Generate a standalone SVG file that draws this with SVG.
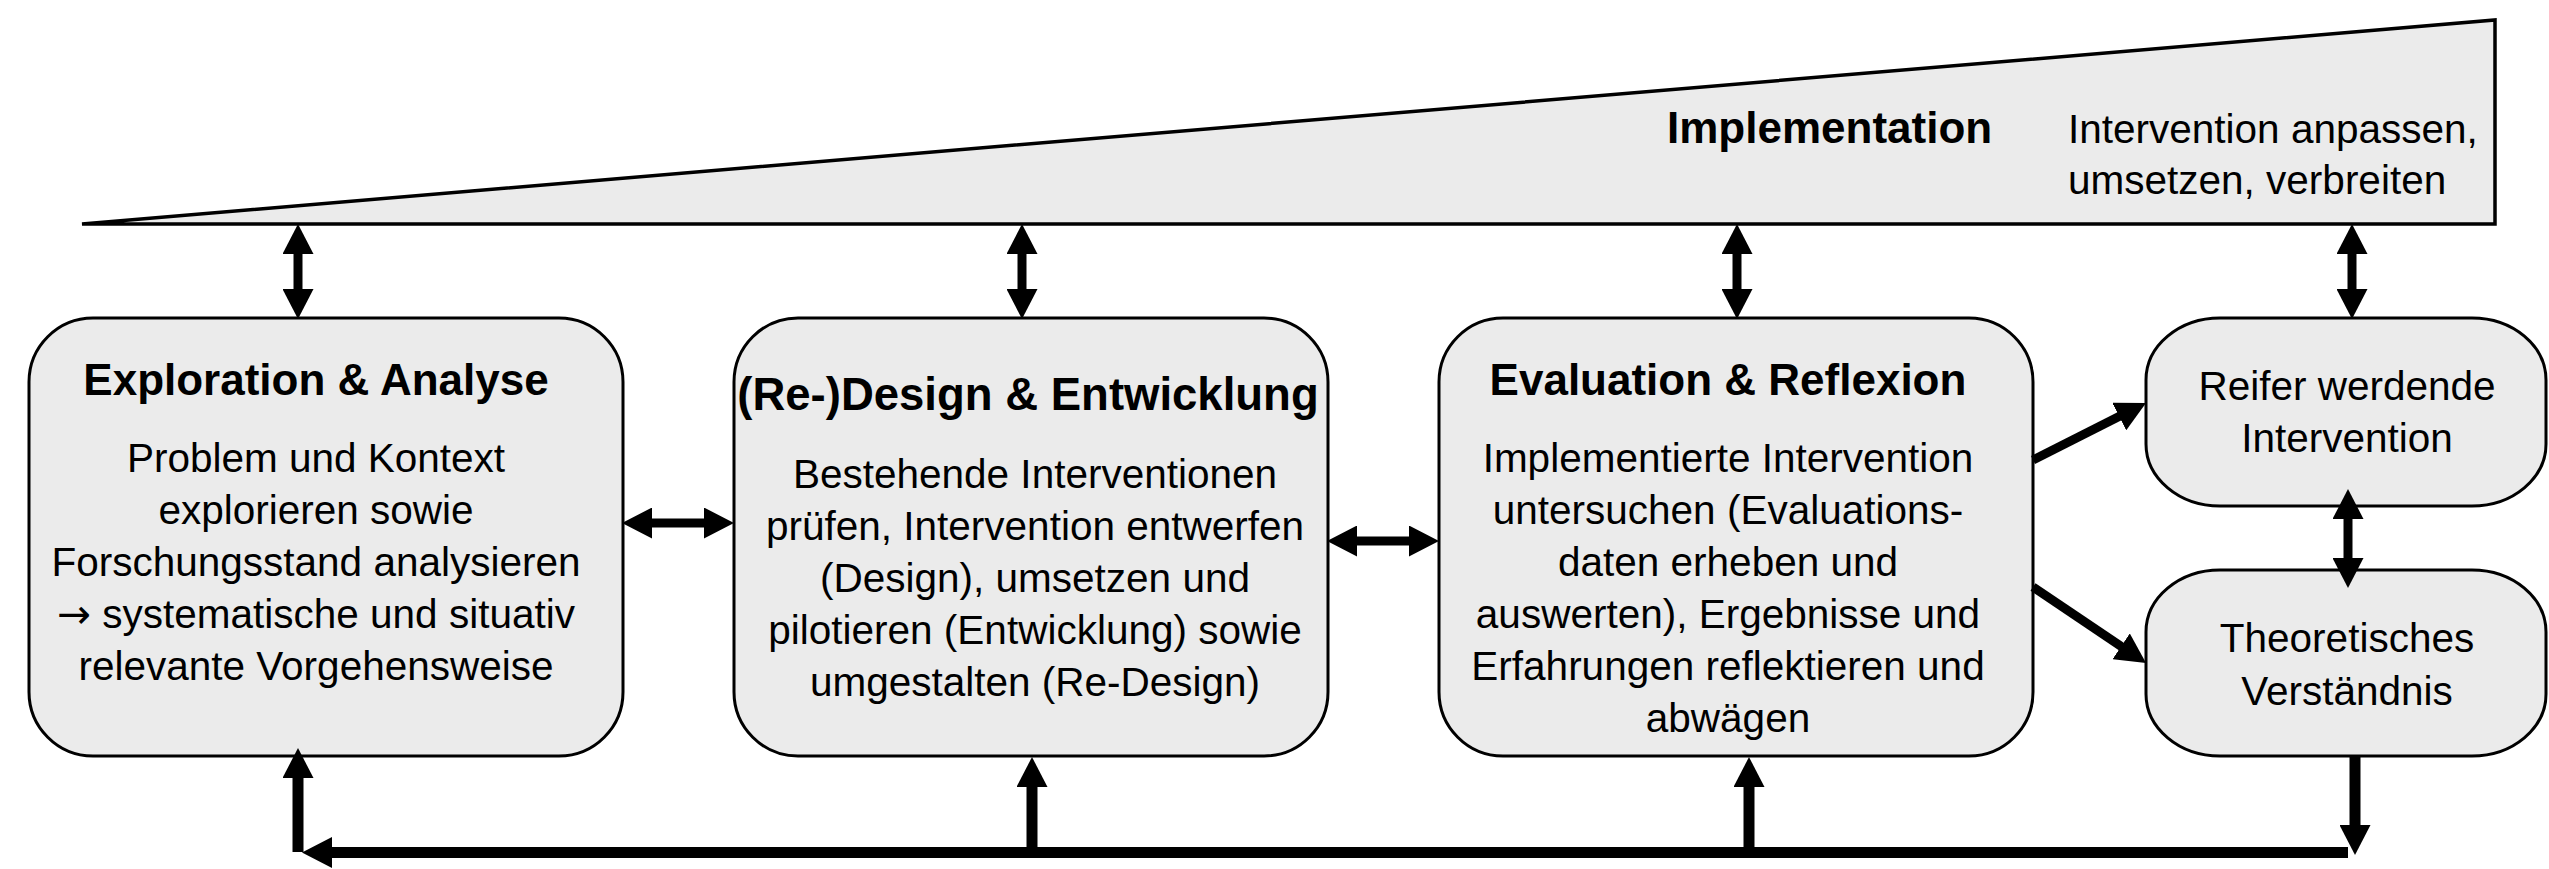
<svg xmlns="http://www.w3.org/2000/svg" width="2549" height="869" viewBox="0 0 2549 869">
<style>
.box{fill:#ebebeb;stroke:#000;stroke-width:3}
.t{font-family:"Liberation Sans",Arial,sans-serif;font-size:40.5px;fill:#000;text-anchor:middle}
.b{font-family:"Liberation Sans",Arial,sans-serif;font-size:44px;font-weight:bold;fill:#000;text-anchor:middle}
.c{fill:none;stroke:#000;stroke-width:9}
.c2{fill:none;stroke:#000;stroke-width:11}
</style>
<defs>
<marker id="ah" viewBox="0 0 30 31" refX="2" refY="15.5" markerWidth="30" markerHeight="31" markerUnits="userSpaceOnUse" orient="auto-start-reverse">
<path d="M0,0 L30,15.5 L0,31 z" fill="#000"/>
</marker>
</defs>
<g id="implementation">
<polygon points="82,224 2495,20 2495,224" fill="#ebebeb" stroke="#000" stroke-width="3.5" stroke-linejoin="miter"/>
<text x="1667" y="143" class="b" style="text-anchor:start">Implementation</text>
<text x="2068" y="143" class="t" style="text-anchor:start">Intervention anpassen,</text>
<text x="2068" y="194" class="t" style="text-anchor:start">umsetzen, verbreiten</text>
</g>
<g id="exploration">
<rect class="box" x="29" y="318" width="594" height="438" rx="64" ry="64"/>
<text x="316" y="395" class="b">Exploration &amp; Analyse</text>
<text x="316" y="472" class="t">Problem und Kontext</text>
<text x="316" y="524" class="t">explorieren sowie</text>
<text x="316" y="576" class="t">Forschungsstand analysieren</text>
<text x="316" y="628" class="t"><tspan style="font-family:'DejaVu Sans',sans-serif">→</tspan> systematische und situativ</text>
<text x="316" y="680" class="t">relevante Vorgehensweise</text>
</g>
<g id="design">
<rect class="box" x="734" y="318" width="594" height="438" rx="64" ry="64"/>
<text x="1028" y="410" class="b" style="font-size:45.5px">(Re-)Design &amp; Entwicklung</text>
<text x="1035" y="488" class="t">Bestehende Interventionen</text>
<text x="1035" y="540" class="t">prüfen, Intervention entwerfen</text>
<text x="1035" y="592" class="t">(Design), umsetzen und</text>
<text x="1035" y="644" class="t">pilotieren (Entwicklung) sowie</text>
<text x="1035" y="696" class="t">umgestalten (Re-Design)</text>
</g>
<g id="evaluation">
<rect class="box" x="1439" y="318" width="594" height="438" rx="64" ry="64"/>
<text x="1728" y="395" class="b">Evaluation &amp; Reflexion</text>
<text x="1728" y="472" class="t">Implementierte Intervention</text>
<text x="1728" y="524" class="t">untersuchen (Evaluations-</text>
<text x="1728" y="576" class="t">daten erheben und</text>
<text x="1728" y="628" class="t">auswerten), Ergebnisse und</text>
<text x="1728" y="680" class="t">Erfahrungen reflektieren und</text>
<text x="1728" y="732" class="t">abwägen</text>
</g>
<g id="reifer">
<rect class="box" x="2146" y="318" width="400" height="188" rx="74" ry="62"/>
<text x="2347" y="400" class="t">Reifer werdende</text>
<text x="2347" y="452" class="t">Intervention</text>
</g>
<g id="theorie">
<rect class="box" x="2146" y="570" width="400" height="186" rx="74" ry="62"/>
<text x="2347" y="652" class="t">Theoretisches</text>
<text x="2347" y="705" class="t">Verständnis</text>
</g>
<g id="connectors">
<path class="c" d="M298,252 V291" marker-start="url(#ah)" marker-end="url(#ah)"/>
<path class="c" d="M1022,252 V291" marker-start="url(#ah)" marker-end="url(#ah)"/>
<path class="c" d="M1737,252 V291" marker-start="url(#ah)" marker-end="url(#ah)"/>
<path class="c" d="M2352,252 V291" marker-start="url(#ah)" marker-end="url(#ah)"/>
<path class="c" d="M650,523 H706" marker-start="url(#ah)" marker-end="url(#ah)"/>
<path class="c" d="M1355,541 H1411" marker-start="url(#ah)" marker-end="url(#ah)"/>
<path class="c" d="M2348,517 V560" marker-start="url(#ah)" marker-end="url(#ah)"/>
<path class="c" d="M2033,460 L2121,415.6" marker-end="url(#ah)"/>
<path class="c" d="M2033,587 L2122.8,647.4" marker-end="url(#ah)"/>
<path class="c2" d="M2348,852.5 H330" marker-end="url(#ah)"/>
<path class="c2" d="M298,852 V776" marker-end="url(#ah)"/>
<path class="c2" d="M1032,852 V785" marker-end="url(#ah)"/>
<path class="c2" d="M1749,852 V785" marker-end="url(#ah)"/>
<path class="c2" d="M2355,755 V827" marker-end="url(#ah)"/>
</g>
</svg>
